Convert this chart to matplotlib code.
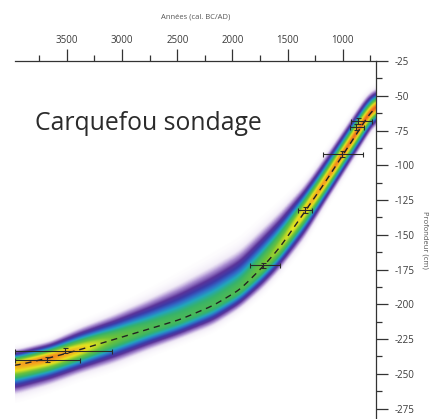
import numpy as np
import matplotlib
matplotlib.use("Agg")
from matplotlib import pyplot as plt
from matplotlib.colors import LinearSegmentedColormap

plt.rcParams['font.family'] = ['Open Sans', 'DejaVu Sans']

# age-depth model along the core (years cal. BC/AD, depth in cm)
model_age = [3967, 3651, 3380, 3080, 2774, 2476, 2177, 1933, 1725, 1572, 1345, 1182, 983, 784, 703]
model_depth = [-244.1, -238.4, -232.6, -225.4, -218.2, -211.0, -201.0, -189.5, -173.0,
               -159.3, -133.4, -114.8, -90.3, -65.9, -57.2]
spread_up = [11.5, 12.0, 16.0, 18.0, 21.6, 25.9, 28.7, 28.7, 28.0, 25.9, 19.4, 18.7, 17.2, 16.5, 12.9]
spread_down = [21.5, 20.0, 18.0, 18.0, 15.8, 14.4, 15.1, 14.4, 16.5, 17.2, 20.1, 17.2, 16.5, 15.8, 13.6]
peak = [0.84, 0.9, 0.8, 0.6, 0.52, 0.5, 0.5, 0.52, 0.6, 0.68, 0.8, 0.86, 0.9, 0.92, 0.92]

# dated levels with their calibrated ranges
date_age = [866, 884, 1010, 1345, 1725, 3515, 3678]
date_depth = [-68.0, -72.4, -91.8, -132.0, -172.0, -233.3, -239.8]
date_err_young = [127, 72, 189, 63, 153, 425, 298]
date_err_old = [63, 54, 173, 63, 118, 452, 289]
date_err_depth = [2, 2, 2, 2, 2, 2, 2]

year_ticks = [3500, 3000, 2500, 2000, 1500, 1000]
year_minor = [3750, 3250, 2750, 2250, 1750, 1250, 750]
depth_ticks = list(range(-25, -276, -25))
depth_minor = [-37.5 - 25 * i for i in range(10)]


def smooth(values, width):
    kern = np.exp(-0.5 * (np.arange(-3 * width, 3 * width + 1) / width) ** 2)
    kern /= kern.sum()
    padded = np.pad(values, 3 * width, mode='edge')
    return np.convolve(padded, kern, mode='valid')


years = np.linspace(3975, 695, 900)
xp = np.array(model_age)[::-1]
def along(vals):
    return smooth(np.interp(years, xp, np.array(vals)[::-1]), 12)

med = along(model_depth)
s_up = along(spread_up)
s_dn = along(spread_down)
pk = along(peak)

depths = np.linspace(-283, -24, 700)
D, _ = np.meshgrid(depths, years, indexing='ij')
off = D - med[None, :]
edge = np.where(off > 0, s_up[None, :], s_dn[None, :])
sig = edge / np.sqrt(2 * np.log(pk[None, :] / 0.03))
dens = pk[None, :] * np.exp(-0.5 * (off / sig) ** 2)

cmap = LinearSegmentedColormap.from_list('band', [
    (0.00, '#ffffff'),
    (0.03, '#f1ebf7'),
    (0.07, '#a88bd0'),
    (0.13, '#5a3399'),
    (0.20, '#3c3aa8'),
    (0.28, '#2f6fc8'),
    (0.36, '#22a6bd'),
    (0.45, '#36b36a'),
    (0.60, '#6cc23a'),
    (0.74, '#e6e31f'),
    (0.86, '#f5a01e'),
    (1.00, '#e21f1f'),
])

fig = plt.figure(figsize=(4.35, 4.19), dpi=100)
ax = fig.add_axes([15 / 435, 0.0, 361 / 435, 358 / 419])

ax.imshow(dens, extent=[years[0], years[-1], depths[0], depths[-1]], origin='lower',
          cmap=cmap, vmin=0, vmax=1, aspect='auto', interpolation='bilinear')
ax.plot(years, med, color='#222222', lw=1.0, dashes=(4.5, 3.5))
ax.errorbar(date_age, date_depth, xerr=[date_err_young, date_err_old], yerr=date_err_depth,
            fmt='none', ecolor='#2a2a2a', elinewidth=0.8, capsize=1.8, capthick=0.8)

ax.set_xlim(3970, 700)
ax.set_ylim(-282.5, -25)

for side in ['left', 'bottom']:
    ax.spines[side].set_visible(False)
for side in ['top', 'right']:
    ax.spines[side].set_linewidth(0.9)
    ax.spines[side].set_color('#333333')

ax.xaxis.tick_top()
ax.xaxis.set_label_position('top')
ax.set_xticks(year_ticks)
ax.set_xticks(year_minor, minor=True)
ax.set_xticklabels([str(y) for y in year_ticks])
ax.yaxis.tick_right()
ax.yaxis.set_label_position('right')
ax.set_yticks(depth_ticks)
ax.set_yticks(depth_minor, minor=True)
ax.set_yticklabels([str(d) for d in depth_ticks])

ax.tick_params(which='major', length=8.5, width=0.9, color='#333333', labelsize=7,
               labelcolor='#3a3a3a')
ax.tick_params(which='minor', length=4.5, width=0.9, color='#333333')
ax.tick_params(axis='x', which='both', top=True, bottom=False, pad=2)
ax.tick_params(axis='y', which='both', right=True, left=False, pad=5)

ax.set_xlabel('Années (cal. BC/AD)', fontsize=5.5, color='#555555', labelpad=12)
ax.set_ylabel('Profondeur (cm)', fontsize=5.5, color='#555555', rotation=270, labelpad=10)

fig.text(35 / 435, 1 - 123 / 419, 'Carquefou sondage', fontsize=17.8, color='#2b2b2b',
         va='center', ha='left')

fig.savefig('out.png', dpi=100)
